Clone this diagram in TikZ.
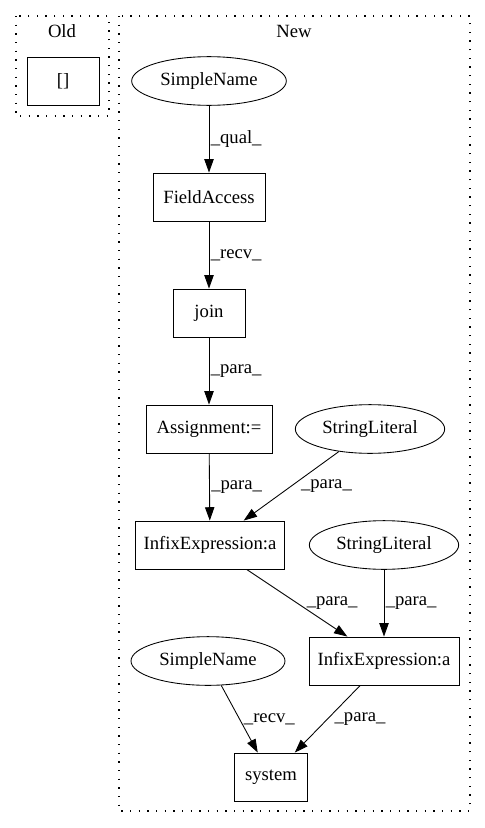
\documentclass[tikz,border=0pt]{standalone}
\usepackage{fontspec}
\setmainfont{Liberation Serif}
\usetikzlibrary{shapes.geometric,arrows.meta}
\begin{document}
\begin{tikzpicture}[x=0.75pt,y=-0.75pt,font=\fontsize{14pt}{16pt}\selectfont,
		box/.style={draw,shape=rectangle,minimum height=36pt,line width=0.65pt,inner sep=0pt},
		oval/.style={draw,shape=ellipse,minimum height=36.5pt,line width=0.65pt,inner sep=0pt},
		edge/.style={-{Triangle[length=10pt,width=7pt]},line width=0.65pt},
		lab/.style={right,inner sep=1pt},
		cluster/.style={line width=1pt,dash pattern=on 1pt off 5.5pt}]
		\useasboundingbox (0,0) rectangle (485,828);
		
		\draw[cluster] (16,16) rectangle (109,116);
		\draw[cluster] (119,16) rectangle (470,811);
		\node (old) at (62,31) {Old};
		\node (new) at (294,31) {New};
		
		\node[box,minimum width=54pt] (brack) at (63,81) {[]};
		
		\node[oval,minimum width=116pt] (sname) at (209,81) {SimpleName};
		\node[box,minimum width=84pt] (field) at (209,197) {FieldAccess};
		\node[box,minimum width=54pt] (join) at (209,313) {join};
		\node[box,minimum width=94.5pt] (assign) at (209,429) {Assignment:=};
		\node[oval,minimum width=112pt] (strlit) at (370,429) {StringLiteral};
		\node[box,minimum width=112pt] (infix) at (210,545) {InfixExpression:a};
		\node[oval,minimum width=112pt] (strlitb) at (384,545) {StringLiteral};
		\node[box,minimum width=112.5pt] (infixb) at (384,661) {InfixExpression:a};
		\node[oval,minimum width=115.5pt] (snameb) at (208,661) {SimpleName};
		\node[box,minimum width=54.75pt] (system) at (271,777) {system};
		
		\draw[edge] (sname) -- node[lab] {\_qual\_} (field);
		\draw[edge] (field) -- node[lab] {\_recv\_} (join);
		\draw[edge] (join) -- node[lab] {\_para\_} (assign);
		\draw[edge] (assign) -- node[lab] {\_para\_} (infix);
		\draw[edge] (strlit) -- node[lab,xshift=6pt] {\_para\_} (infix);
		\draw[edge] (infix) -- node[lab,xshift=6pt] {\_para\_} (infixb);
		\draw[edge] (strlitb) -- node[lab] {\_para\_} (infixb);
		\draw[edge] (snameb) -- node[lab,xshift=2pt] {\_recv\_} (system);
		\draw[edge] (infixb) -- node[lab,xshift=4pt] {\_para\_} (system);
		\end{tikzpicture}
\end{document}
